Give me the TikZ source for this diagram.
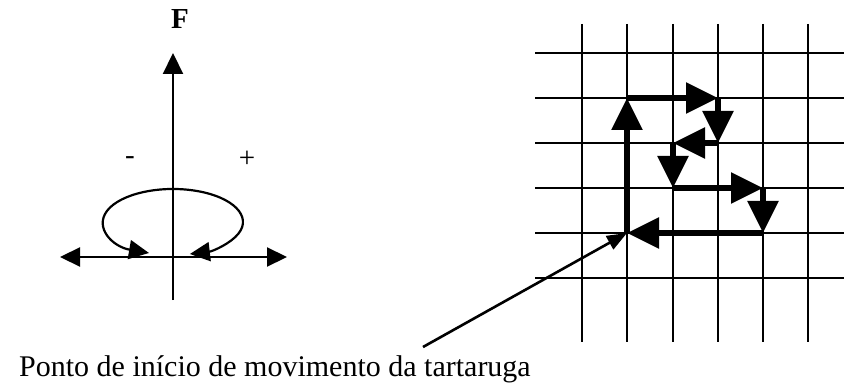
\documentclass[tikz,border=0pt]{standalone}
\usepackage{fontspec}
\setmainfont{Liberation Serif}
\usetikzlibrary{arrows.meta}
\tikzset{
  ax/.style={line width=2.2pt,black},
  gd/.style={line width=2.4pt,black},
  mv/.style={line width=5.5pt,-{Triangle[length=32pt,width=30pt]}},
  pt/.style={line width=2.6pt,-{Triangle[length=20pt,width=15pt]}},
  lb/.style={font=\fontsize{29}{29}\selectfont}
}

\begin{document}
\begin{tikzpicture}[x=1pt,y=-1pt]
\useasboundingbox (0,0) rectangle (844,385);
% left: rotation sketch
\coordinate (O) at (173,257);
\coordinate (fT) at (173,53);
\coordinate (fB) at (173,300);
\coordinate (hL) at (60,257);
\coordinate (hR) at (287,257);
\coordinate (cs) at (149,253);
\node[font=\bfseries\fontsize{29}{29}\selectfont] (fl) at (180,19) {F};
\draw[ax,-{Triangle[length=21pt,width=20pt]}] (fB) -- (fT);
\draw[ax,{Triangle[length=20pt,width=19pt]}-{Triangle[length=20pt,width=19pt]}] (hL) -- (hR);
\draw[ax,{Triangle[length=20pt,width=19pt]}-{Triangle[length=20pt,width=19pt]}]
  (cs) arc[start angle=110,end angle=436,x radius=70,y radius=33];
\node[lb] (mn) at (130,161) {-};
\node[lb] (pl) at (247,159) {+};
% right: grid and turtle path
\foreach \x in {582,627,673,718,763,808}
  \draw[gd] (\x,24) -- (\x,342);
\foreach \y in {53,98,143,188,233,278}
  \draw[gd] (535,\y) -- (844,\y);
\coordinate (p0) at (627,233);
\coordinate (p1) at (627,98);
\coordinate (p2) at (718,98);
\coordinate (p3) at (718,143);
\coordinate (p4) at (673,143);
\coordinate (p5) at (673,188);
\coordinate (p6) at (763,188);
\coordinate (p7) at (763,233);
\foreach \a/\b in {p0/p1,p1/p2,p2/p3,p3/p4,p4/p5,p5/p6,p6/p7,p7/p0}
  \draw[mv] (\a) -- (\b);
% caption and pointer
\coordinate (tl) at (423,347);
\draw[pt] (tl) -- (p0);
\node[anchor=base west,inner sep=0pt,font=\fontsize{30}{30}\selectfont] (cap) at (19,376)
  {Ponto de início de movimento da tartaruga};
\end{tikzpicture}
\end{document}
